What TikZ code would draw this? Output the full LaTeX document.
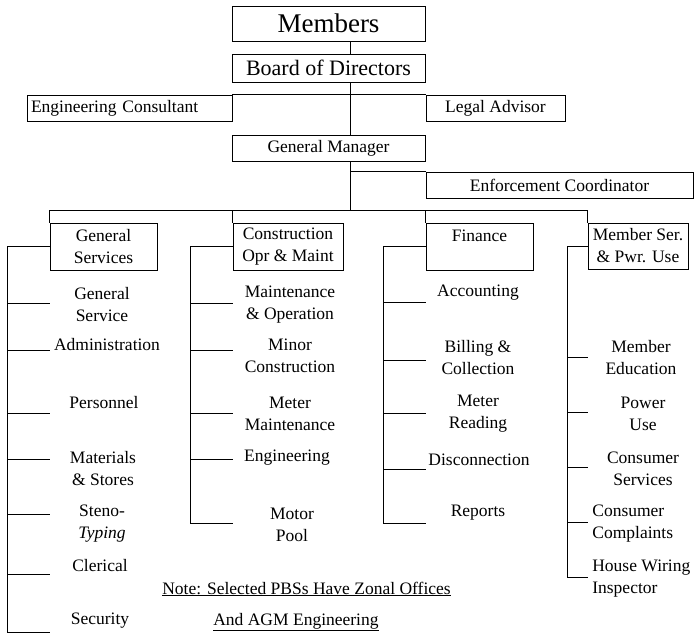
\documentclass[tikz,border=0pt]{standalone}
\usepackage{fontspec}
\setmainfont{Liberation Serif}
\usetikzlibrary{positioning}

\begin{document}
\begin{tikzpicture}[x=1pt,y=-1pt,line width=0.7pt,
  every node/.style={font=\fontsize{17.5}{22}\selectfont},
  box/.style={draw,inner sep=2pt,align=center},
  unit/.style={align=center,inner sep=1pt}]
 \useasboundingbox (0,0) rectangle (696,636);
 % top of the chart
 \node[box,minimum width=193pt,minimum height=35pt,font=\fontsize{27}{30}\selectfont] (members) at (328.5,23.5) {Members};
 \node[box,minimum width=193pt,minimum height=28pt,font=\fontsize{22}{26}\selectfont] (board) at (328.5,68) {Board of Directors};
 \node[box,text width=197pt,align=left,inner xsep=4pt,minimum height=26pt] (engcons) at (129.5,108) {Engineering Consultant};
 \node[box,minimum width=139pt,minimum height=26pt] (legal) at (495.5,108) {Legal Advisor};
 \node[box,minimum width=193pt,minimum height=26pt] (genman) at (328.5,148) {General Manager};
 \node[box,minimum width=267pt,minimum height=26pt] (enforce) at (559.5,185) {Enforcement Coordinator};
 \coordinate (trunk) at (350,0);
 \coordinate (bus) at (0,210);
 \draw (members.south -| trunk) -- (board.north -| trunk);
 \draw (board.south -| trunk) -- (genman.north -| trunk);
 \draw (engcons.north east) -- (legal.north west);
 \draw (genman.south -| trunk) -- (trunk |- bus);
 \draw (trunk |- enforce.north west) -- (enforce.north west);
 % departments
 \node[box,minimum width=107pt,minimum height=47pt] (gensrv) at (103.5,246.5) {General\\Services};
 \node[box,minimum width=110pt,minimum height=47pt] (constr) at (288,246.5) {Construction\\Opr \& Maint};
 \node[box,minimum width=107pt,minimum height=47pt] (finance) at (479.5,246.5) {Finance\\\mbox{}};
 \node[box,minimum width=100pt,minimum height=46pt] (member) at (638,246) {Member Ser.\\\& Pwr. Use};
 \draw (gensrv.north west) -- (gensrv.north west |- bus) -- (member.north west |- bus) -- (member.north west);
 \draw (constr.north west) -- (constr.north west |- bus);
 \draw (finance.north west) -- (finance.north west |- bus);
 % general services
 \node[unit] (gs1) at (102,305) {General\\Service};
 \node[unit] (gs2) at (107,345) {Administration};
 \node[unit] (gs3) at (104,403) {Personnel};
 \node[unit] (gs4) at (103,469) {Materials\\\& Stores};
 \node[unit] (gs5) at (102,524) {Steno-\\\textit{Typing}};
 \node[unit] (gs6) at (100,566) {Clerical};
 \node[unit] (gs7) at (100,621) {Security};
 \coordinate (gst1) at (7,303);
 \coordinate (gst2) at (7,350);
 \coordinate (gst3) at (7,413);
 \coordinate (gst4) at (7,459);
 \coordinate (gst5) at (7,514);
 \coordinate (gst6) at (7,574);
 \coordinate (gst7) at (7,632);
 \draw (gensrv.west) -| (gst7);
 \draw (gst1) -- (gst1 -| gensrv.west);
 \draw (gst2) -- (gst2 -| gensrv.west);
 \draw (gst3) -- (gst3 -| gensrv.west);
 \draw (gst4) -- (gst4 -| gensrv.west);
 \draw (gst5) -- (gst5 -| gensrv.west);
 \draw (gst6) -- (gst6 -| gensrv.west);
 \draw (gst7) -- (gst7 -| gensrv.west);
 % construction
 \node[unit] (co1) at (290,304.5) {Maintenance\\\& Operation};
 \node[unit] (co2) at (290,356) {Minor\\Construction};
 \node[unit] (co3) at (290,414) {Meter\\Maintenance};
 \node[unit] (co4) at (287,458) {Engineering};
 \node[unit] (co5) at (292,524.5) {Motor\\Pool};
 \coordinate (cot1) at (190,303);
 \coordinate (cot2) at (190,350);
 \coordinate (cot3) at (190,413);
 \coordinate (cot4) at (190,459);
 \coordinate (cot5) at (190,523);
 \draw (constr.west) -| (cot5);
 \draw (cot1) -- (cot1 -| constr.west);
 \draw (cot2) -- (cot2 -| constr.west);
 \draw (cot3) -- (cot3 -| constr.west);
 \draw (cot4) -- (cot4 -| constr.west);
 \draw (cot5) -- (cot5 -| constr.west);
 % finance
 \node[unit] (fn1) at (478,293) {Accounting};
 \node[unit] (fn2) at (478,358) {Billing \&\\Collection};
 \node[unit] (fn3) at (478,414) {Meter\\Reading};
 \node[unit] (fn4) at (479,460) {Disconnection};
 \node[unit] (fn5) at (478,513) {Reports};
 \coordinate (fnt1) at (383,302);
 \coordinate (fnt2) at (383,360);
 \coordinate (fnt3) at (383,413);
 \coordinate (fnt4) at (383,469);
 \coordinate (fnt5) at (383,523);
 \draw (finance.west) -| (fnt5);
 \draw (fnt1) -- (fnt1 -| finance.west);
 \draw (fnt2) -- (fnt2 -| finance.west);
 \draw (fnt3) -- (fnt3 -| finance.west);
 \draw (fnt4) -- (fnt4 -| finance.west);
 \draw (fnt5) -- (fnt5 -| finance.west);
 % member services
 \node[unit] (ms1) at (641,358) {Member\\Education};
 \node[unit] (ms2) at (643,414) {Power\\Use};
 \node[unit] (ms3) at (643,469) {Consumer\\Services};
 \node[unit,align=left,anchor=west] (ms4) at (591,524) {Consumer\\Complaints};
 \node[unit,align=left,anchor=west] (ms5) at (591,579) {House Wiring\\Inspector};
 \coordinate (mst1) at (567,357);
 \coordinate (mst2) at (567,412);
 \coordinate (mst3) at (567,467);
 \coordinate (mst4) at (567,522);
 \coordinate (mst5) at (567,577);
 \draw (member.west) -| (mst5);
 \draw (mst1) -- (mst1 -| member.west);
 \draw (mst2) -- (mst2 -| member.west);
 \draw (mst3) -- (mst3 -| member.west);
 \draw (mst4) -- (mst4 -| member.west);
 \draw (mst5) -- (mst5 -| member.west);
 % note
 \node[anchor=west,inner sep=0pt] (note1) at (162,589) {\underline{Note: Selected PBSs Have Zonal Offices}};
 \node[anchor=west,inner sep=0pt] (note2) at (213,622) {\underline{And AGM Engineering}};
\end{tikzpicture}
\end{document}
